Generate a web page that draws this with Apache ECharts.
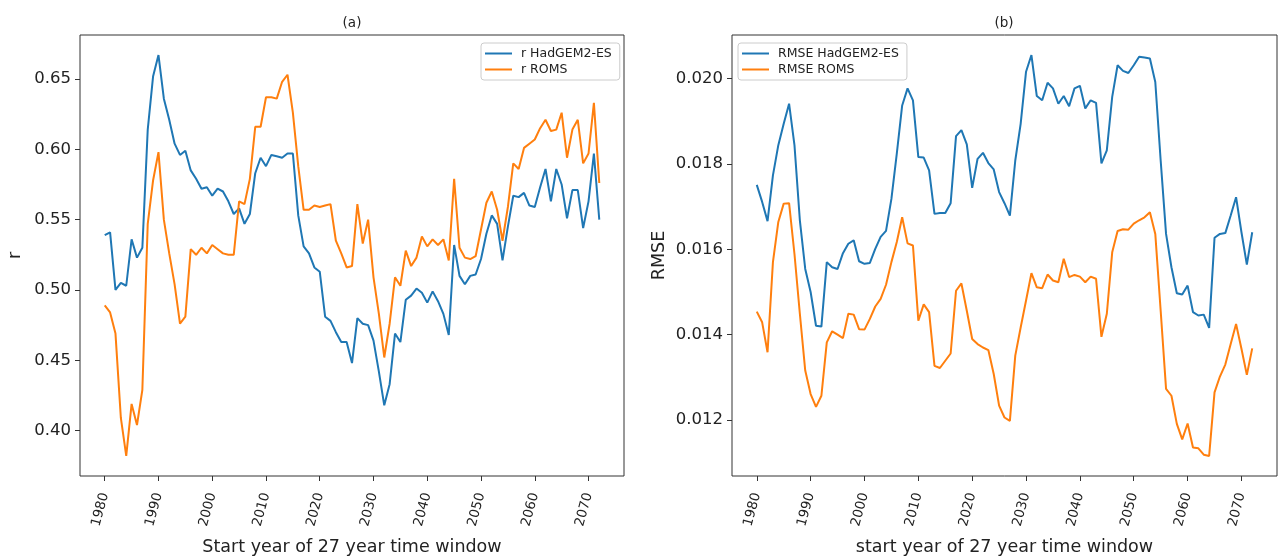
<!DOCTYPE html>
<html>
<head>
<meta charset="utf-8">
<script src="https://cdn.jsdelivr.net/npm/echarts@6/dist/echarts.min.js"></script>
<style>html,body{margin:0;padding:0;background:#fff}#c{width:1278px;height:556px}</style>
</head>
<body>
<div id="c"></div>
<script>
// ---- data ----
const years = Array.from({length: 93}, (_, i) => 1980 + i); // 1980..2072

const rHadGEM = [
  0.539, 0.541, 0.500, 0.505, 0.503, 0.536, 0.523, 0.530, 0.614, 0.652,
  0.667, 0.636, 0.621, 0.604, 0.596, 0.599, 0.585, 0.579, 0.572, 0.573,
  0.567, 0.572, 0.570, 0.563, 0.554, 0.558, 0.547, 0.554, 0.583, 0.594,
  0.588, 0.596, 0.595, 0.594, 0.597, 0.597, 0.553, 0.531, 0.526, 0.516,
  0.513, 0.481, 0.478, 0.470, 0.463, 0.463, 0.448, 0.480, 0.476, 0.475,
  0.464, 0.442, 0.418, 0.433, 0.469, 0.463, 0.493, 0.496, 0.501, 0.498,
  0.491, 0.499, 0.492, 0.483, 0.468, 0.532, 0.510, 0.504, 0.510, 0.511,
  0.522, 0.540, 0.553, 0.547, 0.521, 0.545, 0.567, 0.566, 0.569, 0.560,
  0.559, 0.573, 0.586, 0.563, 0.586, 0.575, 0.551, 0.571, 0.571, 0.544,
  0.563, 0.597, 0.550
];
const rROMS = [
  0.489, 0.484, 0.469, 0.409, 0.382, 0.419, 0.404, 0.429, 0.547, 0.578,
  0.598, 0.550, 0.526, 0.504, 0.476, 0.481, 0.529, 0.525, 0.530, 0.526,
  0.532, 0.529, 0.526, 0.525, 0.525, 0.563, 0.561, 0.579, 0.616, 0.616,
  0.637, 0.637, 0.636, 0.648, 0.653, 0.626, 0.588, 0.557, 0.557, 0.560,
  0.559, 0.560, 0.561, 0.535, 0.526, 0.516, 0.517, 0.561, 0.533, 0.550,
  0.509, 0.483, 0.452, 0.476, 0.509, 0.503, 0.528, 0.517, 0.523, 0.538,
  0.531, 0.536, 0.532, 0.536, 0.521, 0.579, 0.530, 0.523, 0.522, 0.524,
  0.543, 0.562, 0.570, 0.557, 0.535, 0.559, 0.590, 0.586, 0.601, 0.604,
  0.607, 0.615, 0.621, 0.613, 0.614, 0.626, 0.594, 0.614, 0.621, 0.590,
  0.597, 0.633, 0.576
];
const rmseHadGEM = [
  0.01751, 0.01711, 0.01666, 0.01773, 0.01844, 0.01894, 0.01941, 0.01844, 0.01668, 0.01554,
  0.01500, 0.01421, 0.01419, 0.01570, 0.01558, 0.01554, 0.01591, 0.01613, 0.01621, 0.01572,
  0.01566, 0.01568, 0.01601, 0.01629, 0.01643, 0.01718, 0.01824, 0.01937, 0.01977, 0.01949,
  0.01816, 0.01815, 0.01785, 0.01683, 0.01685, 0.01685, 0.01708, 0.01865, 0.01879, 0.01846,
  0.01744, 0.01812, 0.01826, 0.01802, 0.01787, 0.01734, 0.01708, 0.01679, 0.01808, 0.01894,
  0.02016, 0.02055, 0.01959, 0.01949, 0.01990, 0.01977, 0.01941, 0.01959, 0.01935, 0.01977,
  0.01983, 0.01930, 0.01949, 0.01943, 0.01801, 0.01832, 0.01957, 0.02031, 0.02018, 0.02013,
  0.02031, 0.02051, 0.02049, 0.02047, 0.01992, 0.01808, 0.01636, 0.01558, 0.01497, 0.01494,
  0.01515, 0.01453, 0.01445, 0.01447, 0.01416, 0.01627, 0.01636, 0.01638, 0.01679, 0.01722,
  0.01640, 0.01564, 0.01640
];
const rmseROMS = [
  0.01454, 0.01429, 0.01359, 0.01570, 0.01664, 0.01707, 0.01708, 0.01589, 0.01449, 0.01316,
  0.01261, 0.01231, 0.01257, 0.01382, 0.01408, 0.01400, 0.01392, 0.01449, 0.01447, 0.01413,
  0.01412, 0.01437, 0.01466, 0.01484, 0.01517, 0.01570, 0.01617, 0.01675, 0.01614, 0.01609,
  0.01433, 0.01471, 0.01453, 0.01327, 0.01322, 0.01339, 0.01356, 0.01503, 0.01520, 0.01456,
  0.01390, 0.01378, 0.01370, 0.01364, 0.01308, 0.01234, 0.01206, 0.01198, 0.01351, 0.01417,
  0.01480, 0.01544, 0.01511, 0.01509, 0.01541, 0.01527, 0.01523, 0.01578, 0.01535, 0.01540,
  0.01536, 0.01523, 0.01536, 0.01531, 0.01395, 0.01449, 0.01593, 0.01643, 0.01647, 0.01646,
  0.01660, 0.01668, 0.01675, 0.01687, 0.01636, 0.01456, 0.01273, 0.01257, 0.01191, 0.01155,
  0.01192, 0.01136, 0.01134, 0.01119, 0.01116, 0.01265, 0.01302, 0.01330, 0.01378, 0.01425,
  0.01367, 0.01306, 0.01368
];

const xTicks = [1980, 1990, 2000, 2010, 2020, 2030, 2040, 2050, 2060, 2070];
const rTicks = [0.40, 0.45, 0.50, 0.55, 0.60, 0.65];
const rmseTicks = [0.012, 0.014, 0.016, 0.018, 0.020];

// ---- helpers ----
const FONT = 'DejaVu Sans';
const BLUE = '#1f77b4', ORANGE = '#ff7f0e';
const TXT = '#222';
function pairs(vals) { return vals.map((v, i) => [years[i], v]); }
function padRange(arrs) {
  const all = arrs.flat();
  const lo = Math.min(...all), hi = Math.max(...all);
  const p = (hi - lo) * 0.05;
  return [lo - p, hi + p];
}
const xr = padRange([years]);
const rRange = padRange([rHadGEM, rROMS]);
const rmseRange = padRange([rmseHadGEM, rmseROMS]);

function xAxis(idx, name) {
  return {
    type: 'value', gridIndex: idx, min: xr[0], max: xr[1],
    splitLine: {show: false}, axisLine: {show: false},
    axisTick: {show: true, length: 5, customValues: xTicks, lineStyle: {color: '#333', width: 1}},
    axisLabel: {customValues: xTicks, rotate: 75, fontSize: 13.5, color: TXT, fontFamily: FONT, margin: 17,
      formatter: v => String(Math.round(v))},
    name: name, nameLocation: 'middle', nameGap: 62,
    nameTextStyle: {fontSize: 17.5, color: TXT, fontFamily: FONT}
  };
}
function yAxis(idx, range, ticks, dec, name, gap) {
  return {
    type: 'value', gridIndex: idx, min: range[0], max: range[1],
    splitLine: {show: false}, axisLine: {show: false},
    axisTick: {show: true, length: 5, customValues: ticks, lineStyle: {color: '#333', width: 1}},
    axisLabel: {customValues: ticks, fontSize: 16.5, color: TXT, fontFamily: FONT, margin: 9,
      formatter: v => v.toFixed(dec)},
    name: name, nameLocation: 'middle', nameRotate: 90, nameGap: gap,
    nameTextStyle: {fontSize: 17.5, color: TXT, fontFamily: FONT}
  };
}
function line(name, vals, color, idx) {
  return {
    type: 'line', name: name, data: pairs(vals), xAxisIndex: idx, yAxisIndex: idx,
    showSymbol: false, symbol: 'none', lineStyle: {color: color, width: 2},
    itemStyle: {color: color}, animation: false
  };
}
function legend(left, names) {
  return {
    left: left, top: 43, orient: 'vertical', data: names, icon: 'rect',
    itemWidth: 27, itemHeight: 2, itemGap: 3, padding: [4, 8, 4, 4],
    borderColor: '#ccc', borderWidth: 1, borderRadius: 3, backgroundColor: '#fff',
    textStyle: {fontSize: 12.5, color: TXT, fontFamily: FONT, padding: [0, 0, 0, 4]}
  };
}

const chart = echarts.init(document.getElementById('c'), null, {renderer: 'canvas'});
chart.setOption({
  animation: false,
  textStyle: {fontFamily: FONT},
  title: [
    {text: '(a)', left: 352, top: 16, textAlign: 'center', padding: 0,
     textStyle: {fontSize: 13.5, fontWeight: 'normal', color: TXT, fontFamily: FONT}},
    {text: '(b)', left: 1004, top: 16, textAlign: 'center', padding: 0,
     textStyle: {fontSize: 13.5, fontWeight: 'normal', color: TXT, fontFamily: FONT}}
  ],
  grid: [
    {left: 80, right: 654, top: 35, bottom: 80, show: true, borderColor: '#333', borderWidth: 1,
     backgroundColor: 'transparent', containLabel: false, outerBoundsMode: 'none'},
    {left: 732, right: 1, top: 35, bottom: 80, show: true, borderColor: '#333', borderWidth: 1,
     backgroundColor: 'transparent', containLabel: false, outerBoundsMode: 'none'}
  ],
  legend: [
    legend(481, ['r HadGEM2-ES', 'r ROMS']),
    legend(738, ['RMSE HadGEM2-ES', 'RMSE ROMS'])
  ],
  xAxis: [
    xAxis(0, 'Start year of 27 year time window'),
    xAxis(1, 'start year of 27 year time window')
  ],
  yAxis: [
    yAxis(0, rRange, rTicks, 2, 'r', 56),
    yAxis(1, rmseRange, rmseTicks, 3, 'RMSE', 64)
  ],
  series: [
    line('r HadGEM2-ES', rHadGEM, BLUE, 0),
    line('r ROMS', rROMS, ORANGE, 0),
    line('RMSE HadGEM2-ES', rmseHadGEM, BLUE, 1),
    line('RMSE ROMS', rmseROMS, ORANGE, 1)
  ]
});
</script>
</body>
</html>
